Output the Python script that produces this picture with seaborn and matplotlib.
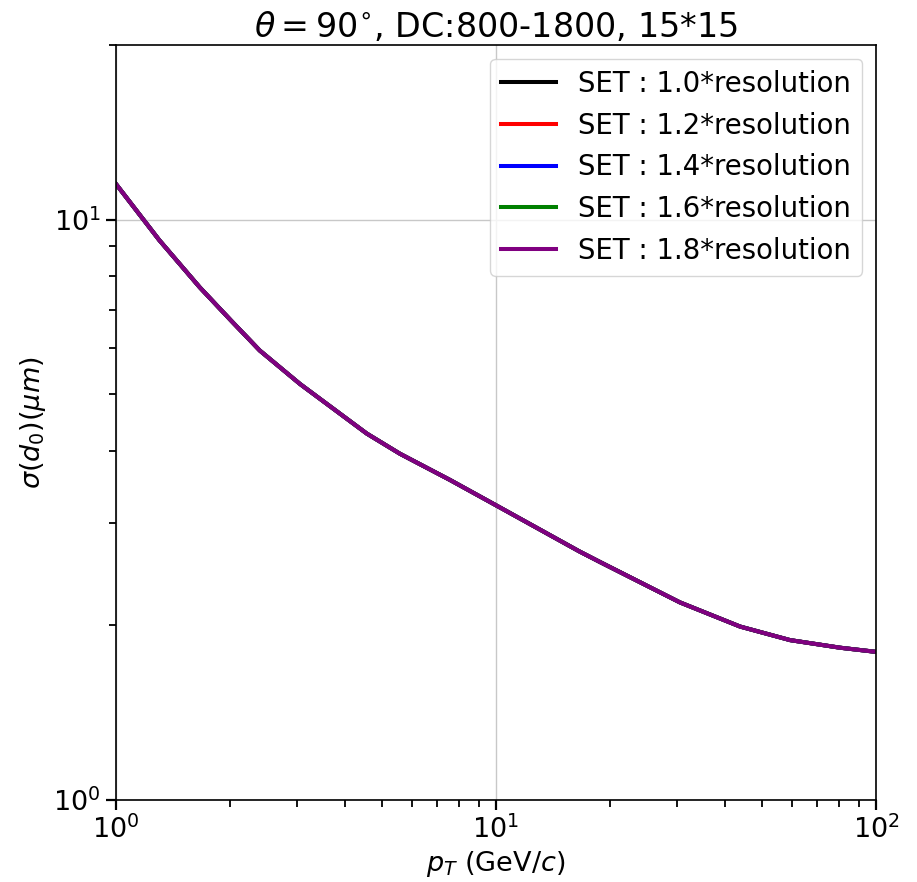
import matplotlib
matplotlib.use("Agg")
import matplotlib.pyplot as plt
import seaborn as sns
import pandas as pd

# data
pt = [1.0, 1.3, 1.66, 2.0, 2.39, 3.05, 4.57, 5.59, 7.57, 10.0, 16.6, 18.8, 30.5, 43.9, 59.4, 80.4, 100.0]
sigma_d0 = [11.52, 9.22, 7.65, 6.72, 5.95, 5.21, 4.28, 3.95, 3.56, 3.22, 2.68, 2.57, 2.19, 1.99, 1.886, 1.83, 1.80]
labels = ["SET : 1.0*resolution", "SET : 1.2*resolution", "SET : 1.4*resolution",
          "SET : 1.6*resolution", "SET : 1.8*resolution"]
colors = ["black", "red", "blue", "green", "purple"]

rows = []
for lab in labels:
    for x, y in zip(pt, sigma_d0):
        rows.append({"pt": x, "sigma": y, "series": lab})
df = pd.DataFrame(rows)

fig = plt.figure(figsize=(9.17, 8.82), dpi=100)
ax = fig.add_axes([116/917, 1-800/882, (876-116)/917, (800-45)/882])

sns.lineplot(data=df, x="pt", y="sigma", hue="series", palette=dict(zip(labels, colors)),
             hue_order=labels, linewidth=2.9, ax=ax, legend=True)

ax.set_xscale("log")
ax.set_yscale("log")
ax.set_xlim(1, 100)
ax.set_ylim(1, 20)
ax.grid(True, which="major", color="#c8c8c8", linewidth=1.0)
ax.tick_params(axis="both", which="major", labelsize=19.5, length=7.5, width=1.6)
ax.tick_params(axis="both", which="minor", length=5, width=1.3)
ax.set_xlabel(r"$p_T$ (GeV/$c$)", fontsize=19.5)
ax.set_ylabel(r"$\sigma(d_0)(\mu m)$", fontsize=19.5)
ax.set_title(r"$\theta = 90^{\circ}$, DC:800-1800, 15*15", fontsize=24)
ax.legend(loc="upper right", fontsize=19.8, handlelength=2.0)
for s in ax.spines.values():
    s.set_linewidth(1.2)

fig.savefig("out.png", dpi=100)
